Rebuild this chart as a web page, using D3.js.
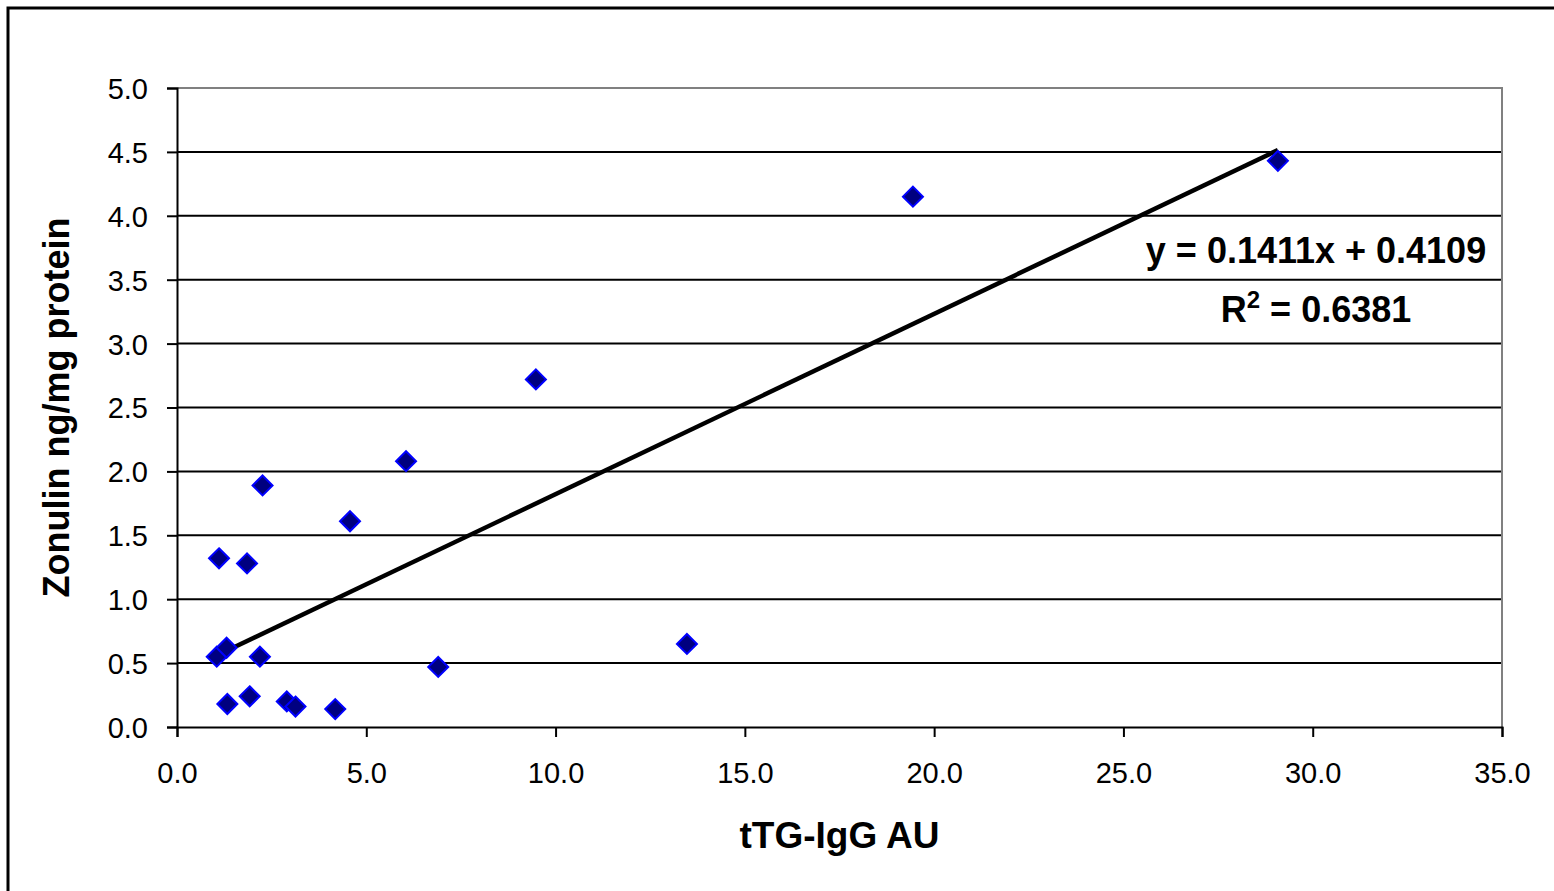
<!DOCTYPE html>
<html>
<head>
<meta charset="utf-8">
<script src="https://cdn.jsdelivr.net/npm/d3@7"></script>
<style>
  body { margin: 0; background: #fff; }
  text { font-family: Arial, "Liberation Sans", sans-serif; }
</style>
</head>
<body>
<div id="chart"></div>
<script>
// data
const ttgIgg  = [1.11, 1.85, 2.26, 4.57, 1.05, 1.31, 2.19, 6.90, 1.33, 1.92, 2.90, 3.13, 4.18, 6.05, 9.48, 13.47, 19.44, 29.08];
const zonulin = [1.32, 1.28, 1.89, 1.61, 0.55, 0.62, 0.55, 0.47, 0.18, 0.24, 0.20, 0.16, 0.14, 2.08, 2.72, 0.65, 4.15, 4.43];
const xTicks = [0, 5, 10, 15, 20, 25, 30, 35];
const yTicks = [0, 0.5, 1, 1.5, 2, 2.5, 3, 3.5, 4, 4.5, 5];
const slope = 0.1411, intercept = 0.4109, rSquared = 0.6381;

const width = 1554, height = 891;
const margin = { top: 88, right: 52, bottom: 164, left: 177 };

const svg = d3.select("#chart")
  .append("svg")
    .attr("width", width)
    .attr("height", height);

// outer chart border (runs off the right/bottom edge)
svg.append("rect")
  .attr("x", 8).attr("y", 8)
  .attr("width", width + 20).attr("height", height + 20)
  .attr("fill", "none")
  .attr("stroke", "#000")
  .attr("stroke-width", 3);

const x = d3.scaleLinear().domain([0, 35]).range([margin.left, width - margin.right]);
const y = d3.scaleLinear().domain([0, 5]).range([height - margin.bottom, margin.top]);

// horizontal gridlines
svg.append("g")
  .selectAll("line")
  .data(yTicks.filter(d => d > 0 && d < 5))
  .join("line")
    .attr("x1", x(0)).attr("x2", x(35))
    .attr("y1", d => y(d)).attr("y2", d => y(d))
    .attr("stroke", "#000")
    .attr("stroke-width", 2);

// plot area top and right edges in grey
svg.append("path")
  .attr("d", `M${x(0)},${y(5)}H${x(35)}V${y(0)}`)
  .attr("fill", "none")
  .attr("stroke", "#808080")
  .attr("stroke-width", 2);

// axes
const xAxis = svg.append("g")
  .attr("transform", `translate(0,${y(0)})`)
  .call(d3.axisBottom(x).tickValues(xTicks).tickFormat(d3.format(".1f")).tickSizeOuter(0).tickSize(10).tickPadding(25));
const yAxis = svg.append("g")
  .attr("transform", `translate(${x(0)},0)`)
  .call(d3.axisLeft(y).tickValues(yTicks).tickFormat(d3.format(".1f")).tickSizeOuter(0).tickSize(10).tickPadding(19));

[xAxis, yAxis].forEach(g => {
  g.select(".domain").attr("stroke", "#000").attr("stroke-width", 2);
  g.selectAll(".tick line").attr("stroke", "#000").attr("stroke-width", 2);
  g.selectAll(".tick text")
    .attr("font-family", "Arial, 'Liberation Sans', sans-serif")
    .attr("font-size", 29)
    .attr("fill", "#000");
});
yAxis.selectAll(".tick text").attr("dy", "0.36em");

// trend line
const xMin = d3.min(ttgIgg), xMax = d3.max(ttgIgg);
svg.append("line")
  .attr("x1", x(xMin)).attr("y1", y(slope * xMin + intercept))
  .attr("x2", x(xMax)).attr("y2", y(slope * xMax + intercept))
  .attr("stroke", "#000")
  .attr("stroke-width", 4.5);

// diamond markers
const points = ttgIgg.map((d, i) => [d, zonulin[i]]);
svg.append("g")
  .selectAll("path")
  .data(points)
  .join("path")
    .attr("d", "M0,-10L10,0L0,10L-10,0Z")
    .attr("transform", d => `translate(${x(d[0])},${y(d[1])})`)
    .attr("fill", "#000080")
    .attr("stroke", "#0000ff")
    .attr("stroke-width", 2);

// equation labels
const eqX = 1316;
svg.append("text")
  .attr("x", eqX).attr("y", 263)
  .attr("text-anchor", "middle")
  .attr("font-size", 36).attr("font-weight", "bold")
  .text(`y = ${slope}x + ${intercept}`);
const r2 = svg.append("text")
  .attr("x", eqX).attr("y", 322)
  .attr("text-anchor", "middle")
  .attr("font-size", 36).attr("font-weight", "bold");
r2.append("tspan").text("R");
r2.append("tspan").attr("dy", -14).attr("font-size", 24).text("2");
r2.append("tspan").attr("dy", 14).text(` = ${rSquared}`);

// axis titles
svg.append("text")
  .attr("x", (x(0) + x(35)) / 2).attr("y", 848)
  .attr("text-anchor", "middle")
  .attr("font-size", 37).attr("font-weight", "bold")
  .text("tTG-IgG AU");
svg.append("text")
  .attr("transform", `translate(69,${(y(0) + y(5)) / 2}) rotate(-90)`)
  .attr("text-anchor", "middle")
  .attr("font-size", 36).attr("font-weight", "bold")
  .text("Zonulin ng/mg protein");
</script>
</body>
</html>
